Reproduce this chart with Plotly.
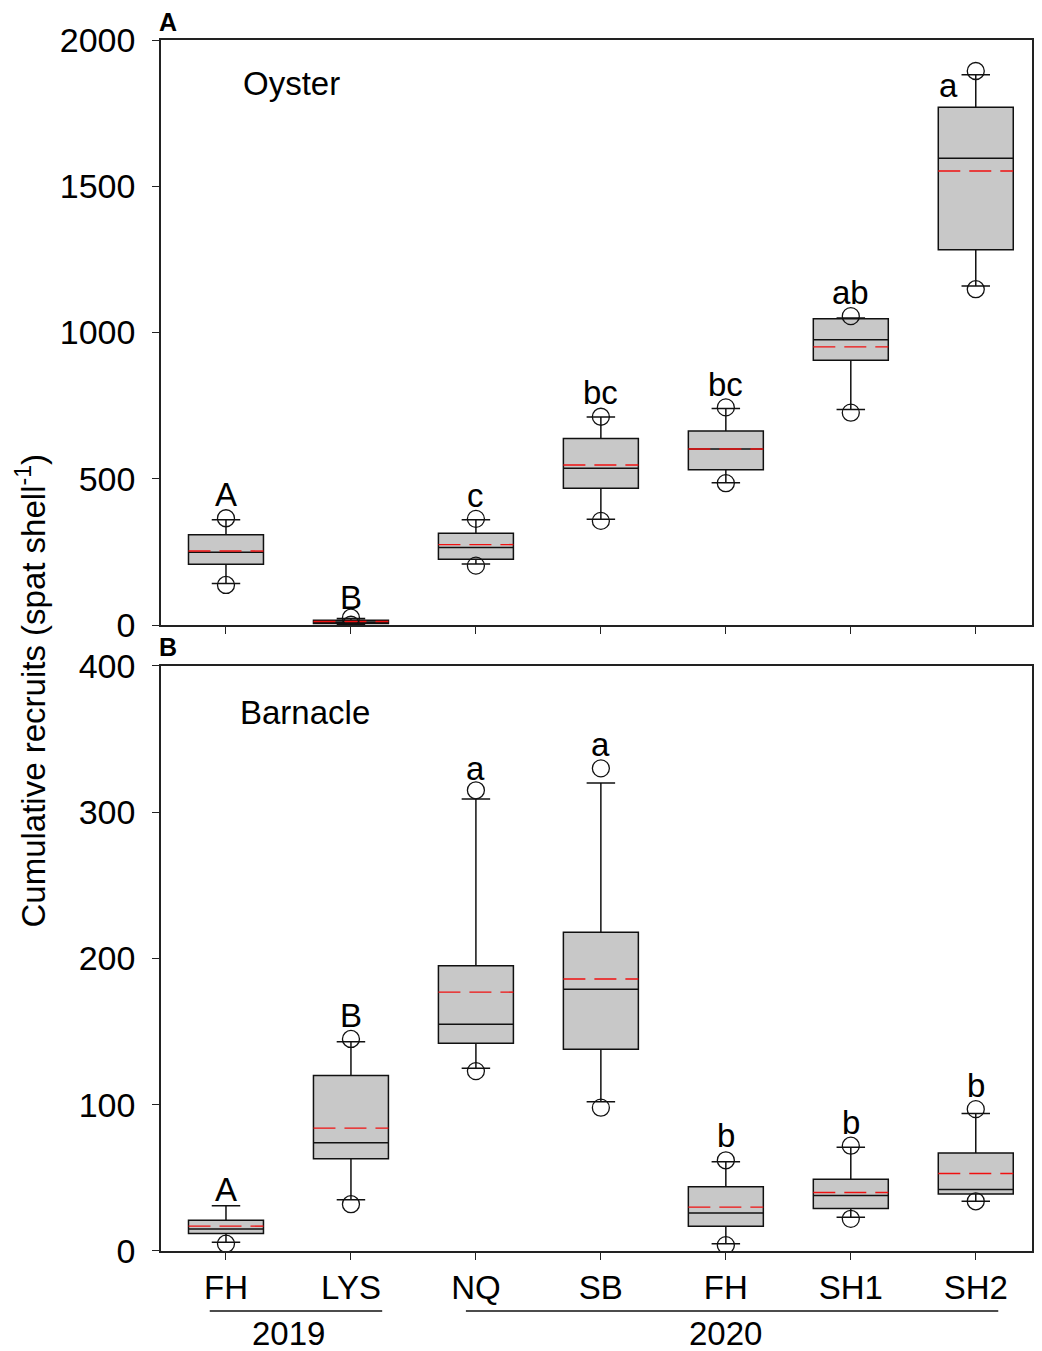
import plotly.graph_objects as go
from plotly.subplots import make_subplots

sites = ["FH", "LYS", "NQ", "SB", "FH", "SH1", "SH2"]

# Oyster (panel A)
oy_q1 = [208, 5, 225, 468, 531, 905, 1283]
oy_med = [249, 10, 265, 536, 602, 975, 1596]
oy_q3 = [309, 16, 314, 638, 663, 1047, 1770]
oy_mean = [253, 12, 275, 547, 602, 951, 1552]
oy_lo = [142, 2, 209, 362, 486, 737, 1159]
oy_hi = [360, 22, 360, 711, 740, 1050, 1881]
oy_out_lo = [137, 1, 203, 356, 485, 726, 1148]
oy_out_hi = [365, 25, 363, 712, 744, 1056, 1894]
oy_letters = ["A", "B", "c", "bc", "bc", "ab", "a"]
oy_letter_y = [447, 94, 443, 795, 822, 1138, 1846]

# Barnacle (panel B)
ba_q1 = [12, 63, 142, 138, 17, 29, 39]
ba_med = [15, 74, 155, 179, 26, 38, 42]
ba_q3 = [21, 120, 195, 218, 44, 49, 67]
ba_mean = [17, 84, 177, 186, 30, 40, 53]
ba_lo = [6, 35, 125, 102, 5, 23, 34]
ba_hi = [31, 143, 309, 320, 61, 71, 94]
ba_out_lo = [5, 32, 123, 98, 4, 22, 34]
ba_out_hi = [None, 145, 315, 330, 62, 72, 97]
ba_letters = ["A", "B", "a", "a", "b", "b", "b"]
ba_letter_y = [42, 161, 330, 346, 79, 88, 113]

FONT = "Liberation Sans, Arial, sans-serif"
BW = 0.6
TXT = dict(family=FONT, size=33, color="#000")

fig = make_subplots(rows=2, cols=1, vertical_spacing=0.0339)
fig.update_yaxes(domain=[0.5169, 1.0], row=1, col=1)
fig.update_yaxes(domain=[0.0, 0.4831], row=2, col=1)

def add_panel(row, q1, med, q3, mean, lo, hi, out_lo, out_hi):
    for i in range(len(sites)):
        fig.add_trace(go.Box(x=[i], q1=[q1[i]], median=[med[i]], q3=[q3[i]],
                             lowerfence=[lo[i]], upperfence=[hi[i]],
                             width=BW, whiskerwidth=0.38, boxpoints=False,
                             fillcolor="#c8c8c8", line=dict(color="#111", width=1.5),
                             hoverinfo="skip", showlegend=False), row=row, col=1)
    mx, my = [], []
    for i, m in enumerate(mean):
        mx += [i - BW / 2, i + BW / 2, None]
        my += [m, m, None]
    fig.add_trace(go.Scatter(x=mx, y=my, mode="lines",
                             line=dict(color="#f01010", width=1.4, dash="22px,9px"),
                             hoverinfo="skip", showlegend=False), row=row, col=1)
    ox = list(range(len(sites))) * 2
    fig.add_trace(go.Scatter(x=ox, y=out_lo + out_hi, mode="markers",
                             marker=dict(symbol="circle-open", size=17, color="#111",
                                         line=dict(width=1.3)),
                             hoverinfo="skip", showlegend=False), row=row, col=1)

add_panel(1, oy_q1, oy_med, oy_q3, oy_mean, oy_lo, oy_hi, oy_out_lo, oy_out_hi)
add_panel(2, ba_q1, ba_med, ba_q3, ba_mean, ba_lo, ba_hi, ba_out_lo, ba_out_hi)

axis_common = dict(showline=True, linecolor="#222", linewidth=1.5, mirror=True,
                   ticks="outside", ticklen=7, tickwidth=1.3, tickcolor="#222",
                   showgrid=False, zeroline=False)
fig.update_xaxes(range=[-0.52, 6.45], tickvals=list(range(len(sites))),
                 tickfont=TXT, **axis_common)
fig.update_xaxes(showticklabels=False, row=1, col=1)
fig.update_xaxes(ticktext=sites, row=2, col=1)
fig.update_yaxes(tickfont=dict(family=FONT, size=34, color="#000"),
                 ticklabelstandoff=10, **axis_common)
fig.update_yaxes(range=[0, 2000], tickvals=[0, 500, 1000, 1500, 2000], row=1, col=1)
fig.update_yaxes(range=[0, 400], tickvals=[0, 100, 200, 300, 400], row=2, col=1)

ann = []
for i, (t, y) in enumerate(zip(oy_letters, oy_letter_y)):
    x = i - 0.22 if t == "a" else i
    ann.append(dict(x=x, y=y, xref="x", yref="y", text=t, showarrow=False,
                    xanchor="center", yanchor="middle", font=TXT))
for i, (t, y) in enumerate(zip(ba_letters, ba_letter_y)):
    ann.append(dict(x=i, y=y, xref="x2", yref="y2", text=t, showarrow=False,
                    xanchor="center", yanchor="middle", font=TXT))

ann += [
    dict(x=0.0916, y=0.926, xref="x domain", yref="y domain", text="Oyster",
         xanchor="left", yanchor="middle", showarrow=False, font=TXT),
    dict(x=0.088, y=0.921, xref="x2 domain", yref="y2 domain", text="Barnacle",
         xanchor="left", yanchor="middle", showarrow=False, font=TXT),
    dict(x=-0.005, y=1.0149, xref="paper", yref="paper", text="<b>A</b>",
         xanchor="left", yanchor="middle", showarrow=False,
         font=dict(family=FONT, size=25, color="#000")),
    dict(x=-0.005, y=0.4988, xref="paper", yref="paper", text="<b>B</b>",
         xanchor="left", yanchor="middle", showarrow=False,
         font=dict(family=FONT, size=25, color="#000")),
    dict(x=-0.149, y=0.463, xref="paper", yref="paper", textangle=-90,
         text="Cumulative recruits (spat shell<sup>-1</sup>)", showarrow=False,
         xanchor="center", yanchor="middle", font=TXT),
    dict(x=0.5, y=-0.0685, xref="x2", yref="paper", text="2019", showarrow=False,
         xanchor="center", yanchor="middle", font=TXT),
    dict(x=4.0, y=-0.0685, xref="x2", yref="paper", text="2020", showarrow=False,
         xanchor="center", yanchor="middle", font=TXT),
]

shapes = [
    dict(type="line", x0=-0.13, x1=1.25, y0=-0.0495, y1=-0.0495, xref="x2", yref="paper",
         line=dict(color="#111", width=1.5)),
    dict(type="line", x0=1.92, x1=6.18, y0=-0.0495, y1=-0.0495, xref="x2", yref="paper",
         line=dict(color="#111", width=1.5)),
]

fig.update_layout(width=1026, height=1343, margin=dict(l=153, r=0, t=32, b=100),
                  plot_bgcolor="white", paper_bgcolor="white",
                  annotations=ann, shapes=shapes,
                  font=dict(family=FONT))

fig.write_html("out.html")
